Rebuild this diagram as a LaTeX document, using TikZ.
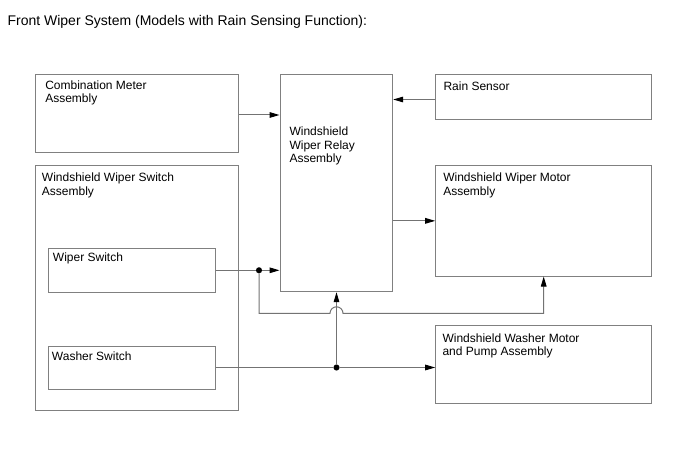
\documentclass[tikz,border=0pt]{standalone}
\usepackage{fontspec}
\setmainfont{Liberation Sans}
\usetikzlibrary{fit, arrows.meta}

\begin{document}
\begin{tikzpicture}[x=0.75pt, y=-0.75pt,
			blk/.style={draw=black!50, line width=0.75pt, inner sep=0pt},
			txt/.style={font=\fontsize{9}{10.2}\selectfont, align=left, inner sep=0pt, anchor=base west},
			con/.style={draw=black!55, line width=0.75pt},
			arr/.style={con, -{Triangle[length=7.5pt, width=4.2pt, black]}},
			dot/.style={circle, fill=black, inner sep=0pt, minimum size=4.6pt}]
			\fill [white] (0,0) rectangle (688,463);
			\useasboundingbox (0,0) rectangle (688,463);
			\node [txt, font=\fontsize{10.5}{12}\selectfont] (title) at (7.3,25.7) {Front Wiper System (Models with Rain Sensing Function):};
			% boxes
			\node [blk, fit={(35.7,75) (238.3,152.7)}] (meter) {};
			\node [blk, fit={(35.7,166) (238.3,410)}] (swasm) {};
			\node [blk, fit={(48.3,248.3) (215.3,292.3)}] (wipersw) {};
			\node [blk, fit={(48.3,346) (215.3,389.3)}] (washersw) {};
			\node [blk, fit={(280,75) (392.7,291.7)}] (relay) {};
			\node [blk, fit={(435.7,75) (651.7,119.3)}] (rain) {};
			\node [blk, fit={(435.7,165.7) (651.7,276)}] (wipermtr) {};
			\node [blk, fit={(435.7,325.7) (651.7,403.3)}] (washermtr) {};
			% labels (base = last line)
			\node [txt] (meterlbl) at (45,102.9) {Combination Meter\\Assembly};
			\node [txt] (swasmlbl) at (41.7,195.3) {Windshield Wiper Switch\\Assembly};
			\node [txt] (wiperswlbl) at (52.7,261.7) {Wiper Switch};
			\node [txt] (washerswlbl) at (51.7,360.7) {Washer Switch};
			\node [txt] (relaylbl) at (289.3,162.9) {Windshield\\Wiper Relay\\Assembly};
			\node [txt] (rainlbl) at (443.3,90.7) {Rain Sensor};
			\node [txt] (wipermtrlbl) at (443,195.3) {Windshield Wiper Motor\\Assembly};
			\node [txt] (washermtrlbl) at (442.3,355.9) {Windshield Washer Motor\\and Pump Assembly};
			% junctions
			\node [dot] (j1) at (259,270.3) {};
			\node [dot] (j2) at (336.5,367.5) {};
			\coordinate (hopL) at (330,313.3);
			% connectors
			\draw [arr] (meter.east |- 0,115) -- (relay.west |- 0,115);
			\draw [arr] (rain.west |- 0,99.5) -- (relay.east |- 0,99.5);
			\draw [arr] (relay.east |- wipermtr.west) -- (wipermtr.west);
			\draw [con] (wipersw.east |- j1) -- (j1);
			\draw [arr] (j1) -- (relay.west |- j1);
			\draw [arr] (j1) |- (hopL) arc [start angle=180, end angle=360, radius=6.5] -| (wipermtr.south);
			\draw [con] (washersw.east |- j2) -- (j2);
			\draw [arr] (j2) -- (washermtr.west |- j2);
			\draw [arr] (j2) -- (relay.south -| j2);
\end{tikzpicture}
\end{document}
